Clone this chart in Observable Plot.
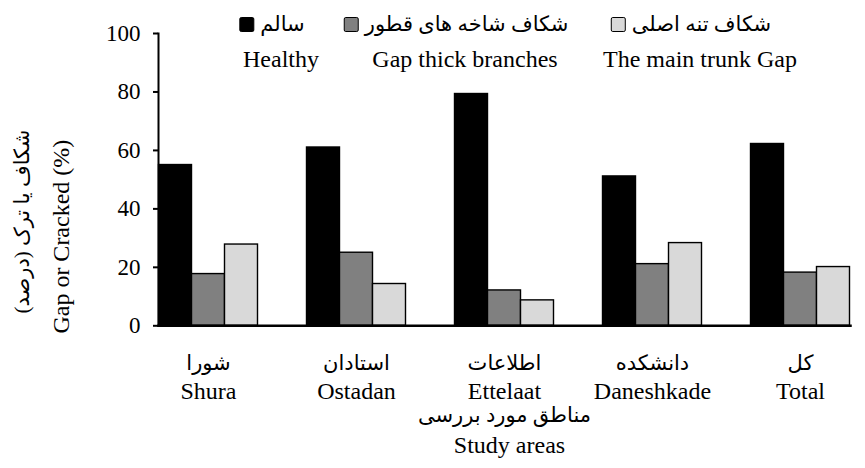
<!DOCTYPE html>
<html>
<head>
<meta charset="utf-8">
<script src="https://cdn.jsdelivr.net/npm/d3@7"></script>
<script src="https://cdn.jsdelivr.net/npm/@observablehq/plot@0.6"></script>
<style>
  body { margin: 0; background: #fff; }
  #wrap { position: relative; width: 865px; height: 468px; overflow: hidden; background: #fff;
          font-family: "Liberation Serif", "DejaVu Sans", serif; color: #000; }
  #wrap svg { position: absolute; left: 0; top: 0; }
  .entry { position: absolute; top: 0; width: 0; }
  .l1, .l2 { position: absolute; transform: translateX(-50%); white-space: nowrap; }
  .l1 { top: 9px; height: 30px; display: flex; align-items: center; gap: 6px; font-size: 21px; line-height: 30px; }
  .l2 { top: 47px; font-size: 24px; line-height: 24px; }
  .sw { width: 13px; height: 13px; border: 1.5px solid #000; border-radius: 2px; flex: none; }
</style>
</head>
<body>
<div id="wrap"></div>
<script>
// ---- data ----
const areasFa = ["شورا", "استادان", "اطلاعات", "دانشکده", "کل"];
const areasEn = ["Shura", "Ostadan", "Ettelaat", "Daneshkade", "Total"];
const seriesFa = ["سالم", "شکاف شاخه های قطور", "شکاف تنه اصلی"];
const seriesEn = ["Healthy", "Gap thick branches", "The main trunk Gap"];
const healthy = [55.0, 61.0, 79.3, 51.1, 62.2];
const thickBranches = [17.7, 25.0, 12.1, 21.1, 18.2];
const mainTrunk = [27.8, 14.3, 8.7, 28.3, 20.1];
const seriesColors = ["#000000", "#808080", "#d9d9d9"];
const yTicks = [0, 20, 40, 60, 80, 100];
const yTitleFa = "شکاف یا ترک (درصد)";
const yTitleEn = "Gap or Cracked (%)";
const xTitleFa = "مناطق مورد بررسی";
const xTitleEn = "Study areas";

const seriesValues = [healthy, thickBranches, mainTrunk];
const data = areasEn.flatMap((area, i) =>
  seriesEn.map((s, j) => ({area, series: s, value: seriesValues[j][i]})));

const rlm = "\u200F";
const faOf = d => rlm + areasFa[areasEn.indexOf(d)] + rlm;

const chart = Plot.plot({
  width: 865,
  height: 468,
  marginLeft: 132.5,
  marginRight: -11.25,
  marginTop: 33,
  marginBottom: 142.7,
  style: {fontFamily: '"Liberation Serif", "DejaVu Sans", serif', fontSize: "24px", color: "#000", background: "transparent"},
  fx: {domain: areasEn, paddingInner: 0.326, paddingOuter: 0.163, label: null},
  x: {domain: seriesEn, padding: 0, axis: null},
  y: {domain: [0, 100], axis: null},
  color: {domain: seriesEn, range: seriesColors},
  marks: [
    Plot.barY(data, {fx: "area", x: "series", y: "value", fill: "series", stroke: "#000", strokeWidth: 1.4}),
    Plot.axisY({ticks: yTicks, tickSize: 5, tickPadding: 13, strokeWidth: 2, fontSize: 23, label: null}),
    Plot.axisFx({anchor: "bottom", tickSize: 0, tickPadding: 29, fontSize: 21, lineAnchor: "top", tickFormat: faOf, label: null}),
    Plot.axisFx({anchor: "bottom", tickSize: 0, tickPadding: 56, fontSize: 24, lineAnchor: "top", tickFormat: d => d, label: null}),
    Plot.frame({anchor: "left", facet: "super", stroke: "#000", strokeWidth: 2}),
    Plot.frame({anchor: "bottom", facet: "super", stroke: "#000", strokeWidth: 2.5}),
    Plot.text([xTitleFa], {text: d => rlm + d + rlm, frameAnchor: "bottom", facet: "super", lineAnchor: "top", dy: 81, fontSize: 21}),
    Plot.text([xTitleEn], {frameAnchor: "bottom", facet: "super", lineAnchor: "top", dy: 110, dx: 5, fontSize: 24}),
    Plot.text([yTitleFa], {text: d => rlm + d + rlm, frameAnchor: "left", textAnchor: "middle", lineAnchor: "middle", facet: "super", rotate: -90, dx: -136, dy: 42, fontSize: 21}),
    Plot.text([yTitleEn], {frameAnchor: "left", textAnchor: "middle", lineAnchor: "middle", facet: "super", rotate: -90, dx: -97, dy: 57, fontSize: 24})
  ]
});

const wrap = document.getElementById("wrap");
wrap.appendChild(chart);

// legend (HTML overlay at the top of the chart)
const legendCenters = [281, 465, 700];
const line1Shift = -9;
seriesEn.forEach((s, i) => {
  const e = document.createElement("div");
  e.className = "entry";
  e.style.left = legendCenters[i] + "px";
  const l1 = document.createElement("div");
  l1.className = "l1";
  l1.style.left = line1Shift + "px";
  const sw = document.createElement("span");
  sw.className = "sw";
  sw.style.background = seriesColors[i];
  const t = document.createElement("span");
  t.textContent = seriesFa[i];
  t.dir = "rtl";
  l1.appendChild(sw);
  l1.appendChild(t);
  const l2 = document.createElement("div");
  l2.className = "l2";
  l2.textContent = s;
  e.appendChild(l1);
  e.appendChild(l2);
  wrap.appendChild(e);
});
</script>
</body>
</html>
